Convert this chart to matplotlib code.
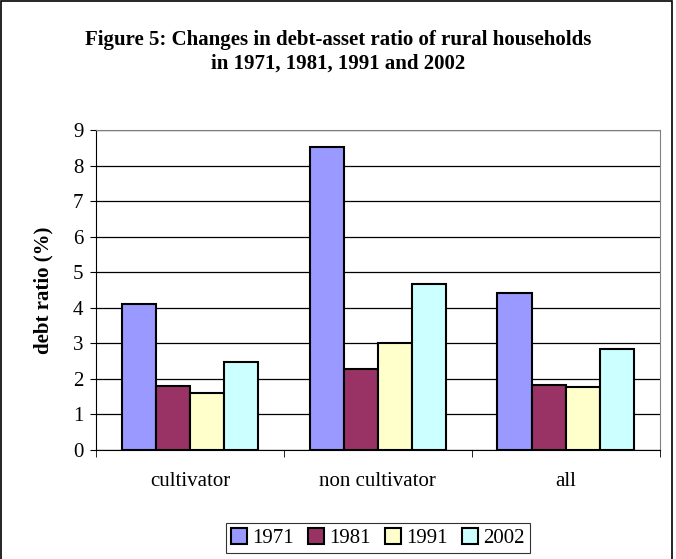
import numpy as np
import matplotlib.pyplot as plt
from matplotlib.patches import Rectangle

# data
categories = ['cultivator', 'non cultivator', 'all']
years = ['1971', '1981', '1991', '2002']
ratio_1971 = [4.12, 8.53, 4.42]
ratio_1981 = [1.80, 2.28, 1.82]
ratio_1991 = [1.60, 3.02, 1.77]
ratio_2002 = [2.47, 4.67, 2.85]
colors = ['#9999FF', '#993366', '#FFFFCC', '#CCFFFF']

plt.rcParams['font.family'] = ['Liberation Serif', 'DejaVu Serif']

fig = plt.figure(figsize=(6.76, 5.59), dpi=100)
ax = fig.add_axes([0.142, 0.195, 0.834, 0.572])

series = [ratio_1971, ratio_1981, ratio_1991, ratio_2002]
x = np.arange(len(categories))
w = 1 / 5.5
for i, vals in enumerate(series):
    ax.bar(x + (i - 1.5) * w, vals, w, color=colors[i], edgecolor='black',
           linewidth=1.5, label=years[i], zorder=3)

ax.set_xlim(-0.5, 2.5)
ax.set_ylim(0, 9)
ax.set_yticks(range(10))
ax.yaxis.grid(True, color='black', linewidth=0.9, zorder=0)
ax.set_xticks(x)
ax.set_xticklabels(categories)
ax.tick_params(axis='x', length=0, pad=16, labelsize=15)
ax.set_xticks([-0.5, 0.5, 1.5, 2.5], minor=True)
ax.tick_params(axis='x', which='minor', length=5, direction='out')
ax.tick_params(axis='y', length=4, direction='out', labelsize=15, pad=5)

for s in ['top', 'right']:
    ax.spines[s].set_color('#808080')
for s in ['left', 'bottom']:
    ax.spines[s].set_color('black')

ax.set_ylabel('debt ratio (%)', fontsize=15, fontweight='bold', labelpad=14)

fig.text(0.5, 0.907, 'Figure 5: Changes in debt-asset ratio of rural households\nin 1971, 1981, 1991 and 2002',
         ha='center', va='center', fontsize=15, fontweight='bold', linespacing=1.25)

leg = ax.legend(loc='center', bbox_to_anchor=(0.559, 0.037), bbox_transform=fig.transFigure,
                ncol=4, frameon=True, fancybox=False, edgecolor='black', fontsize=15,
                handlelength=0.75, handleheight=0.75, handletextpad=0.25, columnspacing=0.7,
                borderpad=0.25)
leg.get_frame().set_linewidth(0.8)
for h in leg.legend_handles:
    h.set_linewidth(1.5)

fig.patches.append(Rectangle((0.002, -0.01), 0.992, 1.008, transform=fig.transFigure,
                             fill=False, edgecolor='black', linewidth=1.2))

plt.savefig('out.png', dpi=100)
